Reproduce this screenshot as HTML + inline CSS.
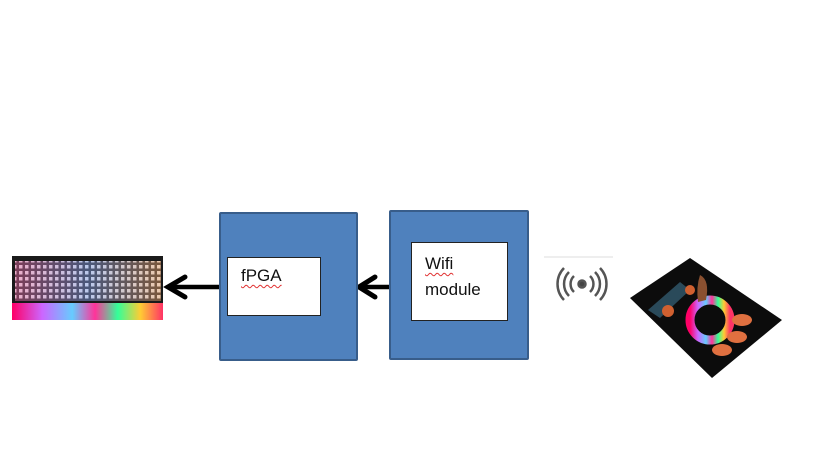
<!DOCTYPE html>
<html><head><meta charset="utf-8"><style>
body{margin:0;width:819px;height:460px;background:#fff;position:relative;overflow:hidden;font-family:"Liberation Sans",sans-serif}
.blk{position:absolute;background:#4f81bd;border:2px solid #385d8a;box-sizing:border-box;border-radius:2px}
.in{position:absolute;background:#fff;border:1px solid #222;box-sizing:border-box;font-size:17px;color:#111}
.sq{text-decoration:underline wavy #e03030;text-decoration-thickness:1px;text-underline-offset:3px}
</style></head><body>
<svg width="819" height="460" style="position:absolute;left:0;top:0">
<defs>
<linearGradient id="rb" x1="0" x2="1">
<stop offset="0" stop-color="#f06"/><stop offset=".2" stop-color="#c6f"/><stop offset=".4" stop-color="#6cf"/><stop offset=".55" stop-color="#f39"/><stop offset=".7" stop-color="#3f9"/><stop offset=".85" stop-color="#fc3"/><stop offset="1" stop-color="#f36"/>
</linearGradient>
<pattern id="dots" width="6" height="6" patternUnits="userSpaceOnUse"><rect width="6" height="6" fill="#222"/><rect x="1" y="1" width="3.5" height="3.5" fill="#ddd"/></pattern>
<linearGradient id="tint" x1="0" x2="1"><stop offset="0" stop-color="#f6a" stop-opacity=".4"/><stop offset=".5" stop-color="#8af" stop-opacity=".4"/><stop offset="1" stop-color="#fa6" stop-opacity=".4"/></linearGradient>
</defs>
<rect x="12" y="256" width="151" height="64" fill="#1a1a1a"/>
<rect x="15" y="261" width="146" height="40" fill="url(#dots)"/>
<rect x="15" y="261" width="146" height="40" fill="url(#tint)"/>
<rect x="12" y="303" width="151" height="17" fill="url(#rb)"/>
<line x1="219" y1="287" x2="172" y2="287" stroke="#000" stroke-width="4.5"/>
<polyline points="185,277 168,287 185,297" fill="none" stroke="#000" stroke-width="5" stroke-linecap="round"/>
<line x1="389" y1="287" x2="362" y2="287" stroke="#000" stroke-width="4.5"/>
<polyline points="375,277 359,287 375,297" fill="none" stroke="#000" stroke-width="5" stroke-linecap="round"/>
<line x1="544" y1="257" x2="613" y2="257" stroke="#eee" stroke-width="2"/>
<g fill="none" stroke="#555" stroke-width="2.5">
<circle cx="582" cy="284" r="3.5" fill="#444"/>
<path d="M574,276 a11,11 0 0 0 0,16"/><path d="M590,276 a11,11 0 0 1 0,16"/>
<path d="M569,272 a17,17 0 0 0 0,24"/><path d="M595,272 a17,17 0 0 1 0,24"/>
<path d="M564,268 a23,23 0 0 0 0,32"/><path d="M600,268 a23,23 0 0 1 0,32"/>
</g>
<polygon points="630,298 690,258 782,320 712,378" fill="#0c0c0c"/>
<polygon points="648,310 680,282 690,290 660,318" fill="#2a4a5a"/>
<circle cx="710" cy="320" r="20" fill="none" stroke="url(#rb)" stroke-width="9"/>
<ellipse cx="742" cy="320" rx="10" ry="6" fill="#e07040"/>
<ellipse cx="737" cy="337" rx="10" ry="6" fill="#e07040"/>
<ellipse cx="722" cy="350" rx="10" ry="6" fill="#e07040"/>
<circle cx="668" cy="311" r="6" fill="#d06030"/>
<circle cx="690" cy="290" r="5" fill="#d06030"/>
<path d="M700,275 q10,5 6,25 l-8,2 q-2,-15 2,-27z" fill="#8a5030"/>
</svg>
<div class="blk" style="left:219px;top:212px;width:139px;height:149px"></div>
<div class="in" style="left:227px;top:257px;width:94px;height:59px;padding:8px 0 0 13px"><span class="sq">fPGA</span></div>
<div class="blk" style="left:389px;top:210px;width:140px;height:150px"></div>
<div class="in" style="left:411px;top:242px;width:97px;height:79px;padding:8px 0 0 13px;line-height:26px"><span class="sq">Wifi</span><br>module</div>
</body></html>
